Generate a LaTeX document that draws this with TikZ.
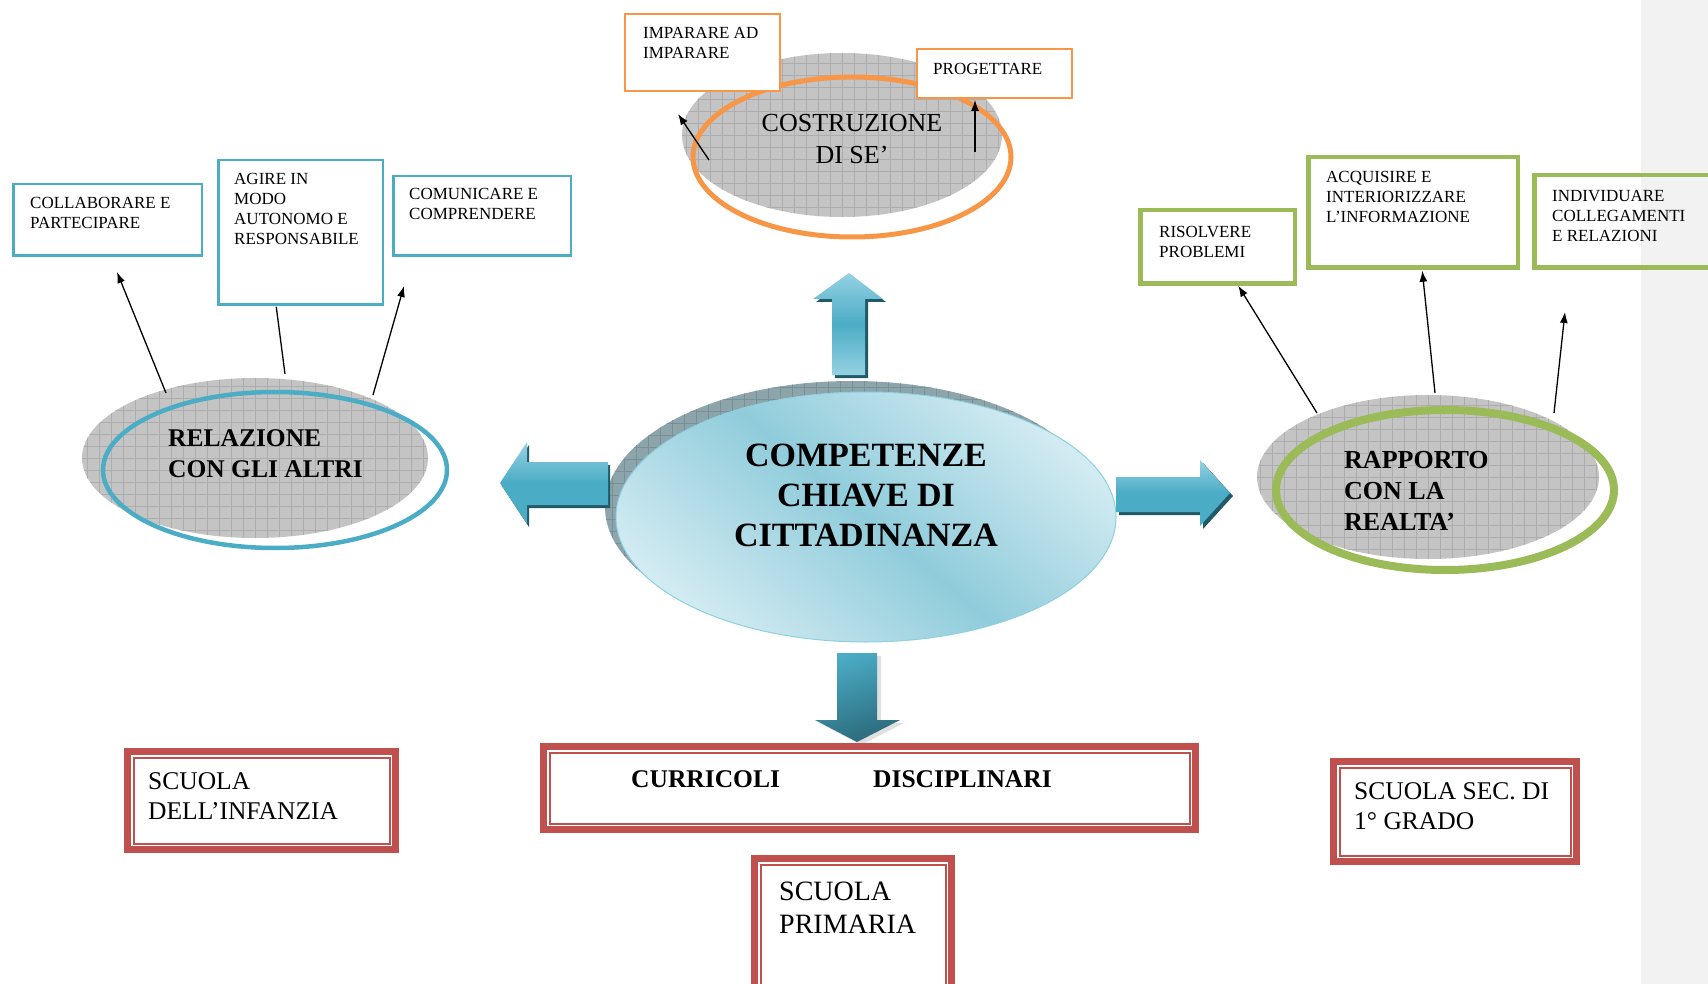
\documentclass[tikz,border=0pt]{standalone}
\usepackage{fontspec}
\setmainfont{Liberation Serif}
\usetikzlibrary{shapes.geometric,arrows.meta}

\definecolor{relblue}{HTML}{4BACC6}
\definecolor{rapgreen}{HTML}{9BBB59}
\definecolor{cosorange}{HTML}{F79646}
\definecolor{schoolred}{HTML}{C0504D}
\definecolor{ovalgray}{HTML}{C4C4C4}
\definecolor{gridgray}{HTML}{ADADAD}
\definecolor{stripgray}{HTML}{F2F2F2}
\definecolor{fatlight}{HTML}{95D2E2}
\definecolor{fatshade}{HTML}{215968}
\definecolor{fatdeep}{HTML}{2B6A7B}
\definecolor{compback}{HTML}{8DA4AA}
\definecolor{compgrid}{HTML}{78909A}
\definecolor{complight}{HTML}{D2EBF2}
\definecolor{compmid}{HTML}{90CCDB}
\definecolor{compedge}{HTML}{8FD0E0}

\tikzset{
  gridoval/.style={ellipse, inner sep=0pt,
    path picture={\draw[#1, line width=0.5pt] (path picture bounding box.south west) grid[step=12pt] (path picture bounding box.north east);}},
  gridoval/.default=gridgray
}

\begin{document}
\begin{tikzpicture}[x=1pt, y=-1pt]
        \tikzstyle{ring}=[ellipse, inner sep=0pt, fill=none]
        \tikzstyle{bluebox}=[rectangle, draw=relblue, line width=2.5pt, fill=white, inner sep=0pt, outer sep=0pt]
        \tikzstyle{orangebox}=[rectangle, draw=cosorange, line width=2pt, fill=white, inner sep=0pt, outer sep=0pt]
        \tikzstyle{greenbox}=[rectangle, draw=rapgreen, line width=4.5pt, fill=white, inner sep=0pt, outer sep=0pt]
        \tikzstyle{redbox}=[rectangle, draw=schoolred, line width=7pt, fill=white, inner sep=0pt, outer sep=0pt]
        \tikzstyle{smalltext}=[anchor=north west, inner sep=0pt, align=left, font=\fontsize{17}{20}\selectfont]
        \tikzstyle{ovaltext}=[inner sep=0pt, font=\bfseries\fontsize{25.5}{31}\selectfont, align=left, anchor=north west]
        \tikzstyle{schooltext}=[anchor=north west, inner sep=0pt, align=left, font=\fontsize{25.5}{30}\selectfont]
        \tikzstyle{pointer}=[-{Latex[length=11pt,width=8pt]}, line width=1.3pt]

        \useasboundingbox (0,0) rectangle (1708,984);
        \clip (0,0) rectangle (1708,984);
        \fill[stripgray] (1641,0) rectangle (1708,984);

        \node[gridoval, fill=ovalgray, minimum width=320, minimum height=164] (Cos_0) at (842,135) {};
        \node[ring, draw=cosorange, line width=5pt, minimum width=318, minimum height=160] (Cos) at (852,157) {};
        \node[gridoval, fill=ovalgray, minimum width=346, minimum height=160] (Rel_0) at (255,458) {};
        \node[ring, draw=relblue, line width=4.5pt, minimum width=344, minimum height=156] (Rel) at (275,470) {};
        \node[gridoval, fill=ovalgray, minimum width=342, minimum height=164] (Rap_0) at (1428,477) {};
        \node[ring, draw=rapgreen, line width=8pt, minimum width=338, minimum height=160] (Rap) at (1445,490) {};

        \node[inner sep=0pt, anchor=north, align=center, font=\fontsize{26}{32}\selectfont] (Cos_t) at (852,114) {COSTRUZIONE\\DI SE’};
        \node[ovaltext] (Rel_t) at (168,429) {RELAZIONE\\CON GLI ALTRI};
        \node[ovaltext, font=\bfseries\fontsize{26}{31}\selectfont] (Rap_t) at (1344,451) {RAPPORTO\\CON LA\\REALTA’};

        \node[orangebox, minimum width=155, minimum height=77] (Cos_1) at (702.5,52.5) {};
        \node[orangebox, minimum width=155, minimum height=49] (Cos_2) at (994.5,73.5) {};
        \node[bluebox, minimum width=188.5, minimum height=71.5] (Rel_1) at (107.5,220) {};
        \node[bluebox, minimum width=164.5, minimum height=144.5] (Rel_2) at (300.5,232.5) {};
        \node[bluebox, minimum width=177.5, minimum height=79.5] (Rel_3) at (482,216) {};
        \node[greenbox, minimum width=154.5, minimum height=73.5] (Rap_1) at (1217.5,247) {};
        \node[greenbox, minimum width=209.5, minimum height=110.5] (Rap_2) at (1413,212.5) {};
        \node[greenbox, fill=none, minimum width=203.5, minimum height=92.5] (Rap_3) at (1636,221.5) {};

        \node[smalltext] (Cos_1t) at (643,27) {IMPARARE AD\\IMPARARE};
        \node[smalltext] (Cos_2t) at (933,63) {PROGETTARE};
        \node[smalltext] (Rel_1t) at (30,197) {COLLABORARE E\\PARTECIPARE};
        \node[smalltext] (Rel_2t) at (234,173) {AGIRE IN\\MODO\\AUTONOMO E\\RESPONSABILE};
        \node[smalltext] (Rel_3t) at (409,188) {COMUNICARE E\\COMPRENDERE};
        \node[smalltext] (Rap_1t) at (1159,226) {RISOLVERE\\PROBLEMI};
        \node[smalltext] (Rap_2t) at (1326,171) {ACQUISIRE E\\INTERIORIZZARE\\L’INFORMAZIONE};
        \node[smalltext] (Rap_3t) at (1552,190) {INDIVIDUARE\\COLLEGAMENTI\\E RELAZIONI};

        \node[gridoval=compgrid, fill=compback, minimum width=494, minimum height=252] (Comp_0) at (852,507) {};
        \node[ellipse, inner sep=0pt, draw=compedge, line width=1pt, top color=complight, bottom color=complight, middle color=compmid, shading angle=-40, minimum width=500, minimum height=250] (Comp) at (866,517) {};
        \node[inner sep=0pt, anchor=north, align=center, font=\bfseries\fontsize{34}{40}\selectfont] (Comp_t) at (866,444) {COMPETENZE\\CHIAVE DI\\CITTADINANZA};

        \fill[fatshade, shift={(3,3)}] (832,375) -- (832,299) -- (813,299) -- (849,273) -- (883,299) -- (865,299) -- (865,375) -- cycle;
        \shade[top color=fatlight, bottom color=fatlight, middle color=relblue] (832,375) -- (832,299) -- (813,299) -- (849,273) -- (883,299) -- (865,299) -- (865,375) -- cycle;
        \fill[fatshade, shift={(2,3)}] (608,462) -- (527,462) -- (527,442) -- (500,483) -- (527,524) -- (527,505) -- (608,505) -- cycle;
        \shade[top color=fatlight, bottom color=relblue, middle color=relblue] (608,462) -- (527,462) -- (527,442) -- (500,483) -- (527,524) -- (527,505) -- (608,505) -- cycle;
        \fill[fatshade, shift={(3,3)}] (1116,477) -- (1200,477) -- (1200,460) -- (1230,493) -- (1200,526) -- (1200,512) -- (1116,512) -- cycle;
        \shade[top color=fatlight, bottom color=relblue, middle color=relblue] (1116,477) -- (1200,477) -- (1200,460) -- (1230,493) -- (1200,526) -- (1200,512) -- (1116,512) -- cycle;
        \fill[black!12, shift={(4,3)}] (837,653) -- (877,653) -- (877,720) -- (900,720) -- (857,742) -- (815,720) -- (837,720) -- cycle;
        \shade[top color=relblue, bottom color=fatdeep, shading angle=20] (837,653) -- (877,653) -- (877,720) -- (900,720) -- (857,742) -- (815,720) -- (837,720) -- cycle;

        \node[redbox, minimum width=268, minimum height=98] (Sc_1) at (261.5,800.5) {};
        \node[redbox, minimum width=652, minimum height=83] (Sc_0) at (869.5,788) {};
        \node[redbox, minimum width=197, minimum height=138] (Sc_2) at (853,927.5) {};
        \node[redbox, minimum width=243, minimum height=100] (Sc_3) at (1455,811.5) {};
        \foreach \s in {Sc_0,Sc_1,Sc_2,Sc_3}
          \draw[schoolred, line width=2pt] ([shift={(6,6)}]\s.north west) rectangle ([shift={(-6,-6)}]\s.south east);

        \node[schooltext] (Sc_1t) at (148,772) {SCUOLA\\DELL’INFANZIA};
        \node[schooltext, font=\bfseries\fontsize{25.5}{30}\selectfont] (Sc_0t) at (631,770) {\makebox[242pt][l]{CURRICOLI}DISCIPLINARI};
        \node[schooltext, font=\fontsize{28}{33}\selectfont] (Sc_2t) at (779,882) {SCUOLA\\PRIMARIA};
        \node[schooltext] (Sc_3t) at (1354,782) {SCUOLA SEC. DI\\1° GRADO};

        \coordinate (Cos_a) at (709,160);
        \coordinate (Cos_b) at (678,114);
        \coordinate (Cos_c) at (975,152);
        \coordinate (Rel_a) at (166,393);
        \coordinate (Rel_b) at (117,272);
        \coordinate (Rel_c) at (285,374);
        \coordinate (Rel_d) at (373,395);
        \coordinate (Rel_e) at (404,286);
        \coordinate (Rap_a) at (1317,413);
        \coordinate (Rap_b) at (1435,393);
        \coordinate (Rap_c) at (1554,413);
        \coordinate (Rap_d) at (1565,312);

        \draw[pointer] (Cos_a) -- (Cos_b);
        \draw[pointer] (Cos_c) -- ([shift={(58,2)}]Cos_2.south west);
        \draw[pointer] (Rel_a) -- (Rel_b);
        \draw[line width=1.3pt] (Rel_c) -- ([shift={(58,2)}]Rel_2.south west);
        \draw[pointer] (Rel_d) -- (Rel_e);
        \draw[pointer] (Rap_a) -- ([shift={(98,2)}]Rap_1.south west);
        \draw[pointer] (Rap_b) -- ([shift={(114,3)}]Rap_2.south west);
        \draw[pointer] (Rap_c) -- (Rap_d);
    \end{tikzpicture}
\end{document}
